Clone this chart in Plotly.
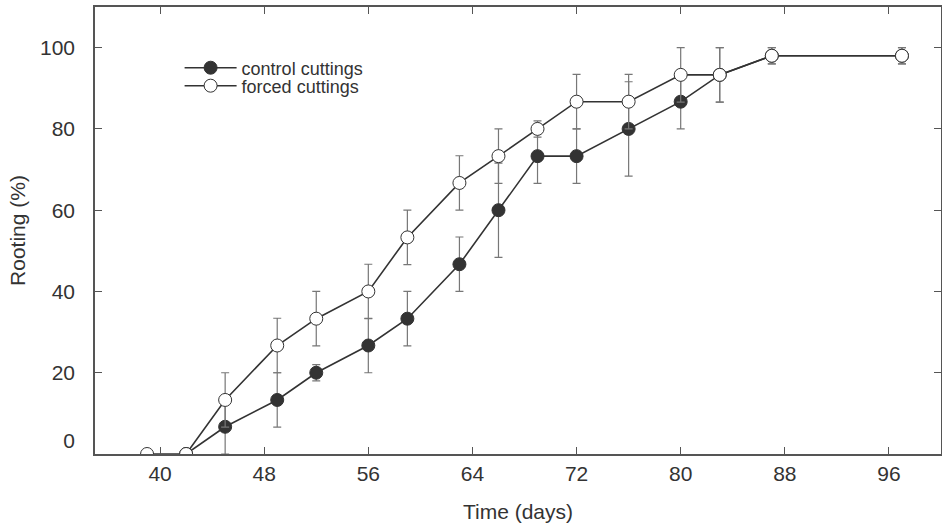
import plotly.graph_objects as go

# ---- data ----
control_days = [42, 45, 49, 52, 56, 59, 63, 66, 69, 72, 76, 80, 83, 87, 97]
control_rooting = [0, 6.7, 13.3, 20, 26.7, 33.3, 46.7, 60, 73.3, 73.3, 80, 86.7, 93.3, 98, 98]
control_err = [0, 6.7, 6.7, 2, 6.7, 6.7, 6.7, 11.6, 6.7, 6.7, 11.6, 6.7, 6.7, 2, 2]

forced_days = [39, 42, 45, 49, 52, 56, 59, 63, 66, 69, 72, 76, 80, 83, 87, 97]
forced_rooting = [0, 0, 13.3, 26.7, 33.3, 40, 53.3, 66.7, 73.3, 80, 86.7, 86.7, 93.3, 93.3, 98, 98]
forced_err = [0, 0, 6.7, 6.7, 6.7, 6.7, 6.7, 6.7, 6.7, 2, 6.7, 6.7, 6.7, 6.7, 2, 2]

x_ticks = [40, 48, 56, 64, 72, 80, 88, 96]
y_ticks = [0, 20, 40, 60, 80, 100]
y_ticktext = ["0<br> ", "20", "40", "60", "80", "100"]

LINE = "#333333"
ERR = "#777777"
FONT = "Liberation Sans, Arial, Helvetica, sans-serif"

fig = go.Figure()
fig.add_trace(go.Scatter(
    x=control_days, y=control_rooting, name="control cuttings",
    mode="lines+markers",
    line=dict(color=LINE, width=1.6),
    marker=dict(size=13, color=LINE, line=dict(color=LINE, width=1)),
    error_y=dict(type="data", array=control_err, color=ERR, thickness=1.2, width=4),
    legend="legend",
))
fig.add_trace(go.Scatter(
    x=forced_days, y=forced_rooting, name="forced cuttings",
    mode="lines+markers",
    line=dict(color=LINE, width=1.6),
    marker=dict(size=13, color="white", line=dict(color=LINE, width=1)),
    error_y=dict(type="data", array=forced_err, color=ERR, thickness=1.2, width=4),
    legend="legend2",
))

axis_common = dict(
    showline=True, linecolor="#555555", linewidth=1.5, mirror="ticks",
    ticks="inside", ticklen=7, tickwidth=1, tickcolor="#555555",
    showgrid=False, zeroline=False,
    tickfont=dict(family=FONT, size=21, color="#333333"),
)

fig.update_layout(
    width=942, height=526,
    margin=dict(l=95, r=1, t=7, b=72),
    paper_bgcolor="white", plot_bgcolor="white",
    font=dict(family=FONT, color="#333333"),
    xaxis=dict(range=[35, 100], tickvals=x_ticks,
               title=dict(text="Time (days)", font=dict(family=FONT, size=21, color="#333333"), standoff=20),
               automargin=False, **axis_common),
    yaxis=dict(range=[0, 110], tickvals=y_ticks, ticktext=y_ticktext, ticklabelstandoff=14,
               title=dict(text="Rooting (%)", font=dict(family=FONT, size=21, color="#333333"), standoff=9),
               automargin=False, **axis_common),
    legend=dict(x=0.1, y=0.8635, xanchor="left", yanchor="middle",
                bgcolor="rgba(0,0,0,0)", font=dict(family=FONT, size=18, color="#333333"),
                itemwidth=52),
    legend2=dict(x=0.1, y=0.8233, xanchor="left", yanchor="middle",
                 bgcolor="rgba(0,0,0,0)", font=dict(family=FONT, size=18, color="#333333"),
                 itemwidth=52),
    showlegend=True,
)

fig.write_html("out.html", config={"displayModeBar": False},
               post_script="document.body.style.margin='0';")
